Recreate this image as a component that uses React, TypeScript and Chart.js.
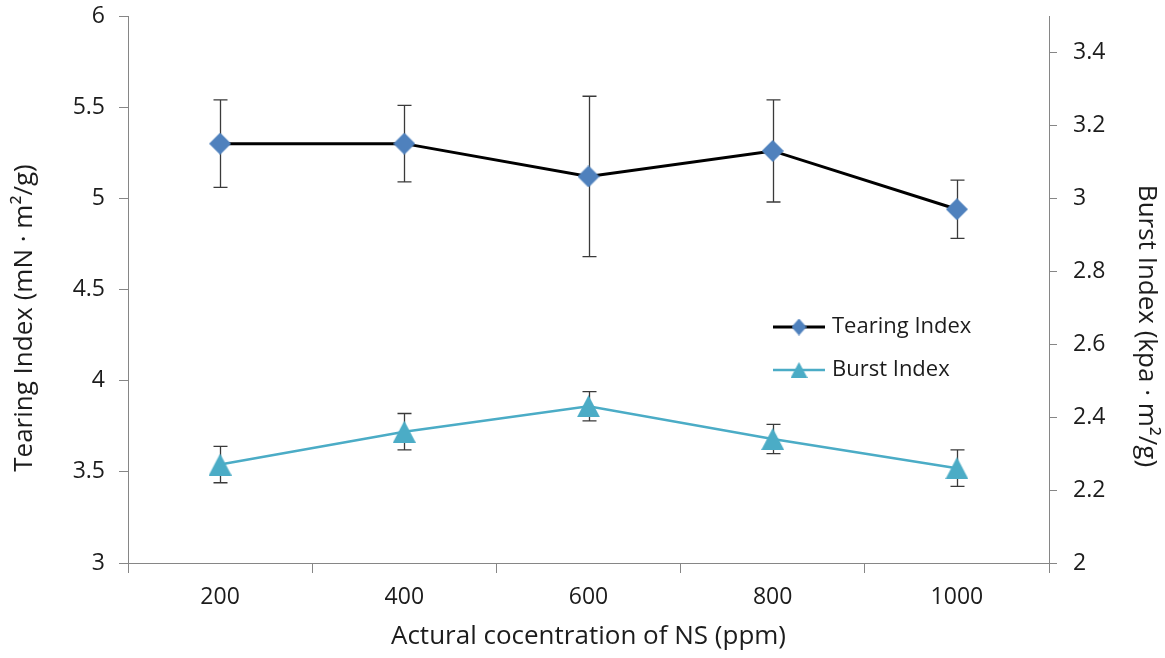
import React, { useEffect, useRef } from 'react';
import { Chart, registerables } from 'chart.js';

Chart.register(...registerables);

const CATEGORIES = ['200', '400', '600', '800', '1000'];
const TEARING = [5.30, 5.30, 5.12, 5.26, 4.94];
const TEARING_ERR = [0.24, 0.21, 0.44, 0.28, 0.16];
const BURST = [2.27, 2.36, 2.43, 2.34, 2.26];
const BURST_ERR = [0.05, 0.05, 0.04, 0.04, 0.05];
const LEFT_TICKS = [3, 3.5, 4, 4.5, 5, 5.5, 6];
const RIGHT_TICKS = [2, 2.2, 2.4, 2.6, 2.8, 3, 3.2, 3.4];
const LEFT_MIN = 3;
const LEFT_MAX = 6;
const RIGHT_MIN = 2;
const RIGHT_MAX = 3.5;

const SERIES_NAMES = ['Tearing Index', 'Burst Index'];
const X_TITLE = 'Actural cocentration of NS (ppm)';
const LEFT_TITLE = 'Tearing Index (mN · m²/g)';
const RIGHT_TITLE = 'Burst Index (kpa · m²/g)';

const FONT = '"Open Sans", "Liberation Sans", sans-serif';
const TEXT_COLOR = '#1c1c1c';
const AXIS_COLOR = '#868686';
const DIAMOND_COLOR = '#4F81BD';
const TRI_COLOR = '#4BACC6';
const ERR_COLOR = '#3a3a3a';

function makeDiamond(w: number, h: number, color: string) {
  const c = document.createElement('canvas');
  c.width = w;
  c.height = h;
  const ctx = c.getContext('2d')!;
  ctx.fillStyle = color;
  ctx.beginPath();
  ctx.moveTo(w / 2, 0);
  ctx.lineTo(w, h / 2);
  ctx.lineTo(w / 2, h);
  ctx.lineTo(0, h / 2);
  ctx.closePath();
  ctx.fill();
  return c;
}

function makeTriangle(w: number, h: number, color: string) {
  const c = document.createElement('canvas');
  c.width = w;
  c.height = h;
  const ctx = c.getContext('2d')!;
  ctx.fillStyle = color;
  ctx.beginPath();
  ctx.moveTo(w / 2, 0);
  ctx.lineTo(w, h);
  ctx.lineTo(0, h);
  ctx.closePath();
  ctx.fill();
  return c;
}

export default function App() {
  const ref = useRef<HTMLCanvasElement | null>(null);

  useEffect(() => {
    const canvas = ref.current;
    if (!canvas) return;
    const diamond = makeDiamond(22, 22, DIAMOND_COLOR);
    const triangle = makeTriangle(23, 22, TRI_COLOR);
    const diamondSmall = makeDiamond(15, 17, DIAMOND_COLOR);
    const triangleSmall = makeTriangle(17, 16, TRI_COLOR);
    const errors = [TEARING_ERR, BURST_ERR];

    const errorBars = {
      id: 'errorBars',
      beforeDatasetsDraw(chart: any) {
        const ctx = chart.ctx;
        ctx.save();
        ctx.strokeStyle = ERR_COLOR;
        ctx.lineWidth = 1.3;
        chart.data.datasets.forEach((ds: any, i: number) => {
          const meta = chart.getDatasetMeta(i);
          const ys = chart.scales[meta.yAxisID];
          meta.data.forEach((pt: any, j: number) => {
            const v = ds.data[j];
            const e = errors[i][j];
            const x = Math.round(pt.x) + 0.5;
            const yt = ys.getPixelForValue(v + e);
            const yb = ys.getPixelForValue(v - e);
            ctx.beginPath();
            ctx.moveTo(x, yt);
            ctx.lineTo(x, yb);
            ctx.moveTo(x - 7, yt);
            ctx.lineTo(x + 7, yt);
            ctx.moveTo(x - 7, yb);
            ctx.lineTo(x + 7, yb);
            ctx.stroke();
          });
        });
        ctx.restore();
      },
    };

    const decorations = {
      id: 'decorations',
      afterDraw(chart: any) {
        const ctx = chart.ctx;
        const area = chart.chartArea;
        ctx.save();
        ctx.fillStyle = TEXT_COLOR;
        ctx.font = `26px ${FONT}`;
        ctx.textBaseline = 'middle';
        ctx.textAlign = 'center';
        // x title
        ctx.fillText(X_TITLE, (area.left + area.right) / 2, 637);
        // left title
        ctx.save();
        ctx.translate(25, 318);
        ctx.rotate(-Math.PI / 2);
        ctx.fillText(LEFT_TITLE, 0, 0);
        ctx.restore();
        // right title
        ctx.save();
        ctx.translate(1146, 326);
        ctx.rotate(Math.PI / 2);
        ctx.fillText(RIGHT_TITLE, 0, 0);
        ctx.restore();

        // legend
        ctx.font = `22px ${FONT}`;
        const rows = [
          { y: 327, color: '#000000', w: 3, img: diamondSmall },
          { y: 370, color: TRI_COLOR, w: 2.5, img: triangleSmall },
        ];
        rows.forEach((r, i) => {
          ctx.strokeStyle = r.color;
          ctx.lineWidth = r.w;
          ctx.beginPath();
          ctx.moveTo(773, r.y);
          ctx.lineTo(825, r.y);
          ctx.stroke();
          ctx.drawImage(r.img, 799 - r.img.width / 2, r.y - r.img.height / 2);
          ctx.textAlign = 'left';
          ctx.fillStyle = TEXT_COLOR;
          ctx.fillText(SERIES_NAMES[i], 832, r.y);
        });
        ctx.restore();
      },
    };

    const tickFont = { family: FONT, size: 23 };
    const noPad = (s: any) => {
      s.paddingTop = 0;
      s.paddingBottom = 0;
    };

    const chart = new Chart(canvas, {
      type: 'line',
      data: {
        labels: CATEGORIES,
        datasets: [
          {
            label: SERIES_NAMES[0],
            data: TEARING,
            yAxisID: 'y',
            borderColor: '#000000',
            borderWidth: 3,
            pointStyle: diamond as any,
            pointRadius: 11,
            tension: 0,
            fill: false,
          },
          {
            label: SERIES_NAMES[1],
            data: BURST,
            yAxisID: 'y1',
            borderColor: TRI_COLOR,
            borderWidth: 2.5,
            pointStyle: triangle as any,
            pointRadius: 11,
            tension: 0,
            fill: false,
          },
        ],
      },
      options: {
        responsive: false,
        animation: false,
        events: [],
        layout: { padding: { top: 16, left: 0, right: 0, bottom: 0 } },
        plugins: {
          legend: { display: false },
          tooltip: { enabled: false },
          title: { display: false },
        },
        scales: {
          x: {
            type: 'category',
            offset: true,
            grid: {
              offset: true,
              drawOnChartArea: false,
              drawTicks: true,
              tickLength: 10,
              color: AXIS_COLOR,
              lineWidth: 1,
            },
            border: { display: true, color: AXIS_COLOR, width: 1 },
            ticks: {
              font: tickFont,
              color: TEXT_COLOR,
              padding: 11,
              maxRotation: 0,
              autoSkip: false,
            },
            afterFit: (s: any) => {
              s.height = 95;
              s.paddingLeft = 0;
              s.paddingRight = 0;
            },
          },
          y: {
            type: 'linear',
            position: 'left',
            min: LEFT_MIN,
            max: LEFT_MAX,
            afterBuildTicks: (s: any) => {
              s.ticks = LEFT_TICKS.map((v) => ({ value: v }));
            },
            ticks: {
              font: tickFont,
              color: TEXT_COLOR,
              padding: 14,
              callback: (v: any) => String(v),
            },
            grid: {
              drawOnChartArea: false,
              drawTicks: true,
              tickLength: 9,
              color: AXIS_COLOR,
            },
            border: { display: true, color: AXIS_COLOR, width: 1 },
            afterFit: (s: any) => {
              s.width = 128;
              noPad(s);
            },
          },
          y1: {
            type: 'linear',
            position: 'right',
            min: RIGHT_MIN,
            max: RIGHT_MAX,
            afterBuildTicks: (s: any) => {
              s.ticks = RIGHT_TICKS.map((v) => ({ value: v }));
            },
            ticks: {
              font: tickFont,
              color: TEXT_COLOR,
              padding: 16,
              callback: (v: any) => String(Math.round(v * 10) / 10),
            },
            grid: {
              drawOnChartArea: false,
              drawTicks: true,
              tickLength: 8,
              color: AXIS_COLOR,
            },
            border: { display: true, color: AXIS_COLOR, width: 1 },
            afterFit: (s: any) => {
              s.width = 116;
              noPad(s);
            },
          },
        },
      },
      plugins: [errorBars, decorations],
    });

    return () => {
      chart.destroy();
    };
  }, []);

  return (
    <div
      style={{
        position: 'fixed',
        left: 0,
        top: 0,
        width: 1165,
        height: 658,
        background: '#ffffff',
      }}
    >
      <canvas ref={ref} width={1165} height={658} />
    </div>
  );
}
